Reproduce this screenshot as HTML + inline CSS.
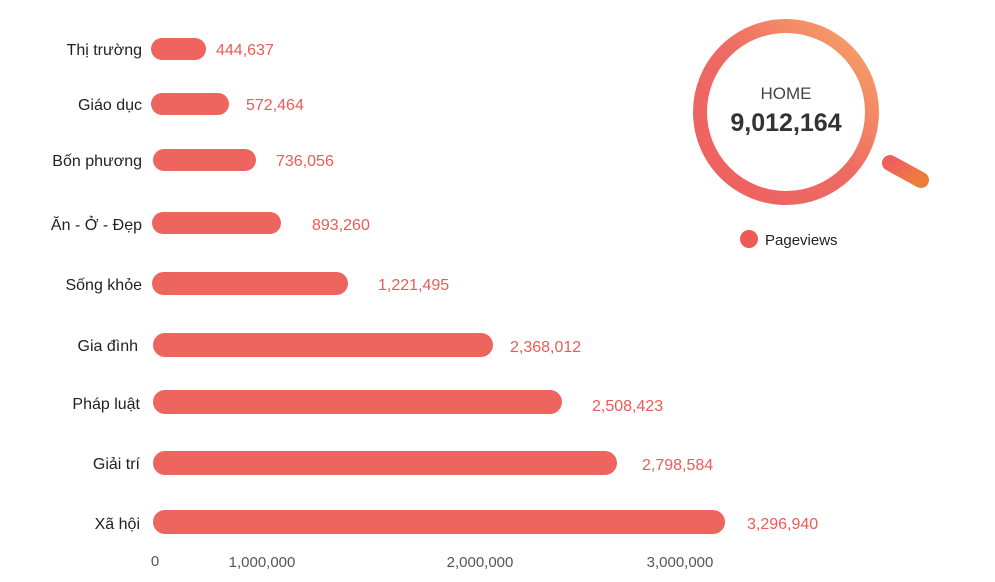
<!DOCTYPE html>
<html><head><meta charset="utf-8"><style>
body{margin:0;background:#fff;width:995px;height:577px;overflow:hidden;font-family:"Liberation Sans",sans-serif}
</style></head><body>
<svg width="995" height="577" xmlns="http://www.w3.org/2000/svg" font-family="Liberation Sans, sans-serif">
<defs>
<linearGradient id="g" x1="0" y1="1" x2="1" y2="0">
<stop offset="0" stop-color="#ee6060"/><stop offset="0.5" stop-color="#ee6a62"/><stop offset="1" stop-color="#f8a86a"/></linearGradient>
<linearGradient id="h" x1="0" y1="0" x2="1" y2="1">
<stop offset="0" stop-color="#ee6060"/><stop offset="1" stop-color="#ec7d3a"/></linearGradient>
</defs>
<g fill="#ee6560">
<rect x="151" y="38" width="55" height="22" rx="11"/>
<rect x="151" y="93" width="78" height="22" rx="11"/>
<rect x="153" y="149" width="103" height="22" rx="11"/>
<rect x="152" y="212" width="129" height="22" rx="11"/>
<rect x="152" y="272" width="196" height="23" rx="11.5"/>
<rect x="153" y="333" width="340" height="24" rx="12"/>
<rect x="153" y="390" width="409" height="24" rx="12"/>
<rect x="153" y="451" width="464" height="24" rx="12"/>
<rect x="153" y="510" width="572" height="24" rx="12"/>
</g>
<g font-size="16" fill="#222" text-anchor="end">
<text x="142" y="55">Thị trường</text>
<text x="142" y="110">Giáo dục</text>
<text x="142" y="166">Bốn phương</text>
<text x="142" y="230">Ăn - Ở - Đẹp</text>
<text x="142" y="290">Sống khỏe</text>
<text x="138" y="351">Gia đình</text>
<text x="140" y="409">Pháp luật</text>
<text x="140" y="469">Giải trí</text>
<text x="140" y="529">Xã hội</text>
</g>
<g font-size="16" fill="#ee5a55">
<text x="216" y="55">444,637</text>
<text x="246" y="110">572,464</text>
<text x="276" y="166">736,056</text>
<text x="312" y="230">893,260</text>
<text x="378" y="290">1,221,495</text>
<text x="510" y="352">2,368,012</text>
<text x="592" y="411">2,508,423</text>
<text x="642" y="470">2,798,584</text>
<text x="747" y="529">3,296,940</text>
</g>
<g font-size="15" fill="#555" text-anchor="middle">
<text x="155" y="566">0</text>
<text x="262" y="567">1,000,000</text>
<text x="480" y="567">2,000,000</text>
<text x="680" y="567">3,000,000</text>
</g>
<circle cx="786" cy="112" r="86" fill="none" stroke="url(#g)" stroke-width="14"/>
<line x1="890" y1="163" x2="921" y2="180" stroke="url(#h)" stroke-width="16" stroke-linecap="round"/>
<text x="786" y="99" font-size="17" fill="#444" text-anchor="middle">HOME</text>
<text x="786" y="131" font-size="25" font-weight="bold" fill="#333" text-anchor="middle">9,012,164</text>
<circle cx="749" cy="239" r="9" fill="#ee5a55"/>
<text x="765" y="245" font-size="15" fill="#222">Pageviews</text>
</svg>
</body></html>
